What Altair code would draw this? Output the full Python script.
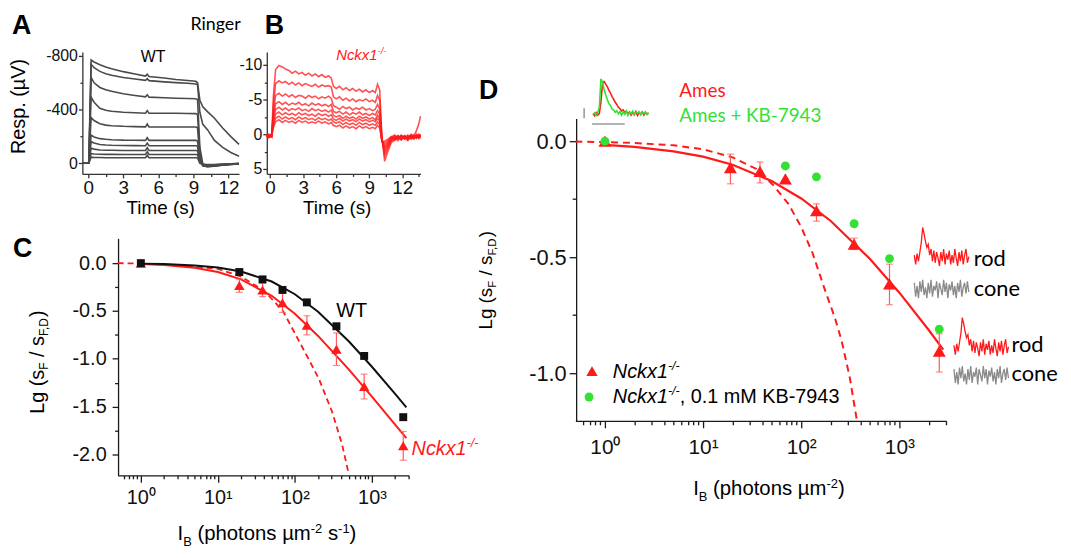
import altair as alt
import pandas as pd

# ============================ DATA ============================
# ---- Panel A: WT rods in Ringer, response family (time s, response µV; negative = upward)
a_time = [-0.5, 0.05, 0.25, 0.5, 1.0, 1.5, 2.0, 3.0, 4.0, 4.9, 5.05, 5.2,
          6.5, 7.5, 8.5, 9.2, 9.35, 9.55, 9.8, 10.2, 10.8, 11.5, 12.2, 12.9]
a_resp = [
    [0, 0, -770, -755, -735, -718, -705, -683, -665, -650, -664, -647,
     -635, -625, -617, -611, -600, -470, -420, -385, -335, -262, -198, -140],
    [0, 0, -738, -712, -685, -668, -656, -640, -628, -618, -631, -616,
     -607, -601, -596, -591, -585, -380, -290, -250, -170, -118, -80, -52],
    [0, 0, -640, -600, -565, -548, -536, -518, -505, -495, -510, -493,
     -488, -485, -483, -481, -475, -120, 5, 18, 16, 12, 8, 5],
    [0, 0, -492, -455, -410, -395, -387, -380, -376, -373, -392, -372,
     -372, -372, -371, -370, -364, -70, 18, 26, 22, 15, 10, 6],
    [0, 0, -340, -318, -294, -284, -279, -275, -273, -271, -292, -270,
     -270, -270, -270, -270, -265, -40, 20, 26, 21, 14, 9, 5],
    [0, 0, -210, -196, -183, -178, -175, -172, -171, -170, -190, -170,
     -170, -170, -170, -170, -166, -20, 18, 23, 19, 13, 8, 4],
    [0, 0, -160, -150, -140, -136, -134, -132, -131, -130, -150, -130,
     -130, -130, -130, -130, -127, -12, 15, 20, 17, 12, 7, 3],
    [0, 0, -112, -105, -99, -97, -96, -95, -95, -95, -115, -95,
     -95, -95, -95, -95, -93, -6, 12, 17, 15, 10, 6, 3],
    [0, 0, -72, -69, -67, -66, -66, -65, -65, -65, -85, -65,
     -65, -65, -65, -65, -63, -2, 10, 14, 12, 9, 5, 2],
    [0, 0, -45, -43, -42, -41, -41, -40, -40, -40, -58, -40,
     -40, -40, -40, -40, -39, 0, 8, 11, 10, 7, 4, 2],
]

# ---- Panel B: Nckx1-/- rods in Ringer (time s, response µV)
b_time = [-0.3, -0.15, 0.0, 0.15,
          0.3,
          0.5, 0.8, 1.1, 1.4, 1.7, 2.0, 2.3, 2.6, 2.9, 3.2, 3.5, 3.8, 4.1, 4.4, 4.7, 5.0, 5.3, 5.55,
          5.75,
          6.0, 6.3, 6.6, 6.9, 7.2, 7.5, 7.8, 8.1, 8.4, 8.7, 9.0, 9.3, 9.55,
          9.75, 9.95,
          10.15, 10.4, 10.7, 11.0,
          11.3, 11.6, 11.9, 12.2, 12.5, 12.8, 13.05, 13.3, 13.5, 13.65]
b_resp = [
    [0.3, 0.5, 0.1, 0.2, -5.5,
     -9.3, -9.9, -9.7, -9.4, -9.2, -8.8, -9.1, -8.7, -8.9, -8.5, -8.8, -8.4, -8.7, -8.3, -8.6, -8.2, -8.4, -8.1,
     -6.9,
     -6.6, -6.9, -6.4, -6.7, -6.3, -6.6, -6.2, -6.5, -6.1, -6.4, -6.0, -6.3, -6.0,
     -7.2, -6.4,
     0.5, 3.9, 2.4, 1.2,
     0.8, 0.3, 0.7, 0.2, 0.5, 0.0, 0.3, -0.6, -1.5, -2.6],
    [0.2, 0.4, 0.0, 0.3, -4.2,
     -7.3, -7.7, -7.4, -7.6, -7.2, -7.5, -7.1, -7.4, -7.0, -7.3, -7.1, -6.9, -7.2, -6.8, -7.1, -6.9, -7.0, -6.8,
     -5.4,
     -5.1, -5.4, -4.9, -5.2, -4.8, -5.1, -4.7, -5.0, -4.8, -5.1, -4.7, -4.9, -4.6,
     -5.6, -4.9,
     0.6, 3.1, 2.0, 0.9,
     0.5, 0.9, 0.3, 0.6, 0.1, 0.5, 0.2, 0.6, 0.0, 0.3],
    [0.4, 0.1, 0.3, 0.0, -3.3,
     -5.6, -5.9, -5.5, -5.8, -5.4, -5.7, -5.3, -5.6, -5.5, -5.2, -5.6, -5.3, -5.5, -5.1, -5.4, -5.2, -5.5, -5.2,
     -4.1,
     -3.9, -3.6, -4.0, -3.7, -3.9, -3.5, -3.8, -3.6, -3.9, -3.5, -3.7, -3.4, -3.6,
     -4.3, -3.6,
     0.7, 2.6, 1.7, 0.8,
     0.3, 0.7, 0.2, 0.5, 0.9, 0.3, 0.6, 0.1, 0.4, 0.0],
    [0.1, 0.3, 0.2, 0.4, -2.6,
     -4.4, -4.7, -4.3, -4.6, -4.2, -4.5, -4.3, -4.6, -4.2, -4.4, -4.1, -4.5, -4.2, -4.4, -4.1, -4.3, -4.0, -4.3,
     -3.3,
     -3.1, -3.3, -2.9, -3.2, -2.8, -3.1, -2.9, -3.2, -2.8, -3.0, -2.7, -3.0, -2.8,
     -3.4, -2.9,
     0.8, 2.2, 1.5, 0.7,
     0.9, 0.4, 0.8, 0.2, 0.6, 0.3, 0.7, 0.2, 0.5, 0.1],
    [0.3, 0.0, 0.4, 0.1, -2.1,
     -3.6, -3.9, -3.5, -3.8, -3.4, -3.7, -3.5, -3.8, -3.4, -3.6, -3.3, -3.7, -3.4, -3.6, -3.3, -3.5, -3.2, -3.5,
     -2.7,
     -2.5, -2.7, -2.3, -2.6, -2.3, -2.5, -2.2, -2.6, -2.3, -2.5, -2.2, -2.4, -2.1,
     -2.8, -2.3,
     0.9, 1.9, 1.3, 0.6,
     0.2, 0.6, 0.1, 0.5, 0.2, 0.7, 0.3, 0.5, 0.1, 0.4],
    [0.2, 0.4, 0.1, 0.3, -1.7,
     -2.9, -3.2, -2.8, -3.1, -2.8, -3.0, -2.7, -3.1, -2.8, -3.0, -2.7, -2.9, -2.6, -3.0, -2.7, -2.9, -2.6, -2.8,
     -2.2,
     -2.0, -2.3, -1.9, -2.2, -1.9, -2.1, -1.8, -2.2, -1.9, -2.1, -1.8, -2.0, -1.8,
     -2.3, -1.9,
     1.0, 1.6, 1.1, 0.5,
     0.7, 0.2, 0.6, 0.3, 0.8, 0.2, 0.5, 0.0, 0.4, 0.2],
    [0.0, 0.3, 0.2, 0.1, -1.3,
     -2.3, -2.6, -2.2, -2.5, -2.2, -2.4, -2.1, -2.5, -2.2, -2.4, -2.1, -2.3, -2.0, -2.4, -2.1, -2.3, -2.0, -2.2,
     -1.8,
     -1.6, -1.8, -1.4, -1.7, -1.4, -1.6, -1.3, -1.7, -1.4, -1.6, -1.3, -1.5, -1.3,
     -1.8, -1.4,
     1.0, 1.3, 0.9, 0.4,
     0.1, 0.5, 0.2, 0.7, 0.3, 0.6, 0.1, 0.4, 0.3, 0.6],
    [0.3, 0.1, 0.4, 0.2, -1.0,
     -1.8, -2.1, -1.7, -2.0, -1.7, -1.9, -1.6, -2.0, -1.7, -1.9, -1.6, -1.8, -1.6, -1.9, -1.6, -1.8, -1.5, -1.7,
     -1.3,
     -1.1, -1.3, -0.9, -1.2, -0.9, -1.1, -0.8, -1.2, -0.9, -1.1, -0.8, -1.0, -0.8,
     -1.3, -0.9,
     1.0, 1.0, 0.7, 0.3,
     0.6, 0.2, 0.8, 0.3, 0.7, 0.1, 0.5, 0.2, 0.6, 0.3],
]

# ---- Panel C: Lg(sF/sF,D) vs background intensity (photons µm^-2 s^-1)
c_ib = [1, 19, 38, 69, 143, 346, 793, 2550]
c_wt = [0.0, -0.093, -0.17, -0.28, -0.41, -0.66, -0.97, -1.61]
c_ko = [0.0, -0.235, -0.28, -0.415, -0.65, -0.90, -1.29, -1.91]
c_ko_err = [0.0, 0.07, 0.07, 0.10, 0.10, 0.17, 0.13, 0.15]
c_fit_x = [1, 2, 5, 10, 20, 50, 100, 200, 500, 1000, 2000, 2800]
c_fit_wt = [-0.005, -0.010, -0.024, -0.046, -0.087, -0.192, -0.325, -0.508, -0.817, -1.083, -1.366, -1.507]
c_fit_ko = [-0.010, -0.020, -0.049, -0.093, -0.169, -0.341, -0.529, -0.761, -1.111, -1.395, -1.687, -1.830]
c_dash_x = [0.5, 1, 3, 10, 20, 40, 70, 114, 150, 205, 306, 411, 477, 500]
c_dash_y = [0.0, -0.005, -0.02, -0.06, -0.14, -0.29, -0.50, -0.82, -1.0, -1.21, -1.56, -1.90, -2.13, -2.21]

# ---- Panel D: Lg(sF/sF,D) vs flash background (photons µm^-2), Ames medium
d_ib = [1, 19, 38, 69, 143, 346, 793, 2550]
d_ko = [0.0, -0.114, -0.13, -0.163, -0.30, -0.444, -0.615, -0.905]
d_ko_lo = [0.0, -0.184, -0.18, -0.163, -0.345, -0.467, -0.705, -0.995]
d_ko_hi = [0.0, -0.056, -0.09, -0.163, -0.27, -0.418, -0.53, -0.83]
d_kb_x = [1, 69, 143, 346, 793, 2550]
d_kb = [0.0, -0.107, -0.154, -0.356, -0.506, -0.81]
d_fit_x = [1, 2, 5, 10, 20, 50, 100, 200, 500, 1000, 2000, 2800]
d_fit = [-0.016, -0.025, -0.044, -0.067, -0.102, -0.172, -0.247, -0.344, -0.507, -0.653, -0.815, -0.898]
d_dash_x = [0.5, 1, 2, 5, 10, 20, 35, 52, 74, 100, 130, 174, 220, 258, 313, 368]
d_dash_y = [-0.002, -0.004, -0.008, -0.018, -0.035, -0.07, -0.12, -0.19, -0.27, -0.37, -0.48, -0.64, -0.76, -0.86, -1.02, -1.2]

# ---- Inset in D: normalised flash responses, Ames (red) vs Ames + KB-7943 (green)
ames_idx = [0, 1, 2, 3, 4, 5, 6, 7, 8, 9, 10, 11, 12, 13, 14, 15, 16, 17,
            18, 19, 20, 21, 22, 23, 24, 25, 26, 27, 28, 29, 30, 31, 32, 33, 34, 35]
ames_red = [0.02, -0.04, 0.05, -0.02, 0.03, 0.35, 0.88, 0.92, 0.85, 0.78, 0.68, 0.6, 0.5, 0.43, 0.34, 0.28,
            0.2, 0.16, 0.1, 0.13, 0.05, 0.09, 0.02, 0.07, -0.02, 0.06, 0.0, 0.08, -0.03, 0.05, 0.01, 0.07,
            -0.02, 0.06, 0.0, 0.04]
ames_green = [0.0, 0.04, -0.03, 0.05, 0.2, 1.0, 0.9, 0.7, 0.55, 0.42, 0.3, 0.25, 0.15, 0.12, 0.06, 0.1,
              0.02, 0.08, -0.02, 0.07, 0.0, 0.1, -0.03, 0.06, 0.02, 0.09, -0.02, 0.05, 0.03, 0.08, -0.01,
              0.06, 0.02, 0.07, 0.0, 0.05]
bar_v_idx = [-5.6, -5.6]
bar_v_val = [-0.11, 0.17]
bar_h_idx = [-0.6, 20]
bar_h_val = [-0.27, -0.27]

# ---- rod / cone example traces (normalised)
rc_idx = [0, 1, 2, 3, 4, 5, 6, 7, 8, 9, 10, 11, 12, 13, 14, 15, 16, 17, 18, 19,
          20, 21, 22, 23, 24, 25, 26, 27, 28, 29, 30, 31, 32, 33, 34, 35, 36, 37, 38, 39]
rod_trace = [0.1, -0.2, 0.15, -0.1, 0.2, 0.5, 1.0, 0.8, 0.55, 0.35, 0.45, 0.1, 0.3, -0.1, 0.25, -0.15,
             0.2, 0.0, -0.25, 0.2, -0.1, 0.3, -0.2, 0.15, -0.05, 0.25, -0.2, 0.1, -0.15, 0.3, 0.0,
             -0.25, 0.2, -0.1, 0.25, -0.2, 0.1, 0.3, -0.15, 0.05]
cone_trace = [0.2, -0.25, 0.1, -0.3, 0.25, -0.1, 0.3, -0.2, 0.05, -0.3, 0.2, -0.15, 0.3, -0.25, 0.1,
              -0.05, 0.25, -0.3, 0.2, 0.0, -0.2, 0.3, -0.1, 0.2, -0.3, 0.15, -0.05, 0.25, -0.2, 0.1,
              -0.3, 0.2, -0.1, 0.3, -0.25, 0.05, 0.2, -0.15, 0.25, -0.1]

for tr in a_resp:
    assert len(tr) == len(a_time)
for tr in b_resp:
    assert len(tr) == len(b_time), len(tr)
assert len(ames_red) == len(ames_idx) == len(ames_green)
assert len(rod_trace) == len(rc_idx) == len(cone_trace)

# ============================ LAYOUT ============================
W, H = 1062, 545
OX, OY = 8, 8


def X(p):
    return p - OX


def Y(p):
    return p - OY


FONT = 'Liberation Sans'
CAL = 'Lato'
RED = '#ff1a1a'
GREEN = '#33e133'
ERR = '#ff5a5a'
AXC = '#1a1a1a'


def lin(dom, rng, axis):
    f = X if axis == 'x' else Y
    return alt.Scale(type='linear', domain=dom, range=[f(rng[0]), f(rng[1])], nice=False, zero=False)


def logs(dom, rng):
    return alt.Scale(type='log', domain=dom, range=[X(rng[0]), X(rng[1])], nice=False)


SA = dict(x=lin([-0.5, 12.9], [81, 239], 'x'), y=lin([-830, 80], [50, 173], 'y'))
SB = dict(x=lin([-0.3, 13.65], [267, 422], 'x'), y=lin([-11.86, 5.71], [50, 173], 'y'))
SC = dict(x=logs([0.5, 3000], [116.6, 410.1]), y=lin([-2.218, 0.259], [477, 238], 'y'))
SD = dict(x=logs([0.5, 3000], [578.2, 952.2]), y=lin([-1.205, 0.098], [422, 117], 'y'))

AW = {' ': 278, '(': 333, ')': 333, '/': 278, ',': 278, '.': 278, '-': 333, 'I': 278, 'B': 667,
      'F': 611, 'D': 722, 'L': 556, 'N': 722, 'K': 667, 'M': 833, 'g': 556, 's': 500, 'p': 556,
      'h': 556, 'o': 556, 't': 278, 'n': 556, 'µ': 576, 'm': 833, 'c': 500, 'k': 500, 'x': 500}


def tw(s, size):
    return sum(AW.get(ch, 556) for ch in s) * size / 1000.0


layers = []


def T(s, x, y, size, color='black', font=FONT, style='normal', weight='normal',
      angle=0, align='left', baseline='alphabetic'):
    df = pd.DataFrame({'t': [s]})
    return alt.Chart(df).mark_text(
        font=font, fontSize=size, color=color, fontStyle=style, fontWeight=weight,
        angle=angle, align=align, baseline=baseline
    ).encode(x=alt.value(X(x)), y=alt.value(Y(y)), text='t:N')


def seq(pieces, x, y, angle=0):
    """Place text pieces one after another (leading/trailing blanks are advanced, not drawn)."""
    out = []
    cur = 0.0
    for s, size, shift, kw in pieces:
        lead = len(s) - len(s.lstrip(' '))
        trail = len(s) - len(s.rstrip(' '))
        cur += lead * 278 * size / 1000.0
        core = s.strip(' ')
        if angle == 0:
            out.append(T(core, x + cur, y + shift, size, **kw))
        else:
            out.append(T(core, x + shift, y - cur, size, angle=270, **kw))
        cur += tw(core, size) + trail * 278 * size / 1000.0
    return out


def ax(orient, pos, values, size, tick, pad, expr=None, labels=True, domain=True, color=AXC):
    kw = dict(orient=orient, values=values, tickSize=tick, labelPadding=pad, labelFontSize=size,
              labelFont=FONT, labelColor='#111111', domain=domain, domainColor=color, tickColor=color,
              domainWidth=1.3, tickWidth=1.3, grid=False, title=None, labels=labels,
              labelFlush=False, labelOverlap=False)
    kw['offset'] = -X(pos) if orient == 'left' else Y(pos) - H
    if expr:
        kw['labelExpr'] = expr
    return alt.Axis(**kw)


def axis_layer(S, px_, py_, xaxis, yaxis):
    df = pd.DataFrame({'x': [px_], 'y': [py_]})
    return alt.Chart(df).mark_point(opacity=0).encode(
        x=alt.X('x:Q', scale=S['x'], axis=xaxis),
        y=alt.Y('y:Q', scale=S['y'], axis=yaxis))


def line(df, S, color, width=2.0, dash=None, opacity=1.0, detail=None):
    kw = dict(color=color, strokeWidth=width, opacity=opacity, clip=False)
    if dash:
        kw['strokeDash'] = dash
    enc = dict(x=alt.X('x:Q', scale=S['x'], axis=None), y=alt.Y('y:Q', scale=S['y'], axis=None))
    if detail:
        enc['detail'] = detail
    return alt.Chart(df).mark_line(**kw).encode(**enc)


def pts(df, S, shape, color, size):
    return alt.Chart(df).mark_point(shape=shape, filled=True, color=color, size=size, opacity=1).encode(
        x=alt.X('x:Q', scale=S['x'], axis=None), y=alt.Y('y:Q', scale=S['y'], axis=None))


def errbars(df, S, color):
    r = alt.Chart(df).mark_rule(color=color, strokeWidth=1.2).encode(
        x=alt.X('x:Q', scale=S['x'], axis=None), y=alt.Y('lo:Q', scale=S['y'], axis=None), y2='hi:Q')
    c1 = alt.Chart(df).mark_tick(color=color, orient='horizontal', size=7, thickness=1.2).encode(
        x=alt.X('x:Q', scale=S['x'], axis=None), y=alt.Y('lo:Q', scale=S['y'], axis=None))
    c2 = alt.Chart(df).mark_tick(color=color, orient='horizontal', size=7, thickness=1.2).encode(
        x=alt.X('x:Q', scale=S['x'], axis=None), y=alt.Y('hi:Q', scale=S['y'], axis=None))
    return [r, c1, c2]


AX_A = "replace(format(datum.value, 'd'), '\u2212', '-')"
AX_F = "replace(format(datum.value, '.1f'), '\u2212', '-')"
AX_LOG = ("datum.value < 5 ? '10\u2070' : datum.value < 50 ? '10\u00b9' : "
          "datum.value < 500 ? '10\u00b2' : '10\u00b3'")
LOG_MINOR = [0.6, 0.7, 0.8, 0.9, 2, 3, 4, 5, 6, 7, 8, 9, 20, 30, 40, 50, 60, 70, 80, 90,
             200, 300, 400, 500, 600, 700, 800, 900, 2000, 3000]

# ---------------- Panel A ----------------
dfA = pd.DataFrame([{'x': t, 'y': v, 'k': i} for i, tr in enumerate(a_resp) for t, v in zip(a_time, tr)])
layers.append(line(dfA, SA, '#4a4a4a', width=1.6, detail='k:N'))
layers.append(axis_layer(SA, 5, -300,
                         ax('bottom', 173, [0, 3, 6, 9, 12], 19, 4, 1, color='#333333'),
                         ax('left', 81, [-800, -400, 0], 16, 4, 1, expr=AX_A, color='#333333')))
layers.append(axis_layer(SA, 5, -300,
                         ax('bottom', 173, [1.5, 4.5, 7.5, 10.5], 10, 2.5, 1, labels=False, domain=False, color='#333333'),
                         ax('left', 81, [-600, -200], 10, 2.5, 1, labels=False, domain=False, color='#333333')))

# ---------------- Panel B ----------------
dfB = pd.DataFrame([{'x': t, 'y': v, 'k': i} for i, tr in enumerate(b_resp) for t, v in zip(b_time, tr)])
layers.append(line(dfB, SB, RED, width=1.6, opacity=0.75, detail='k:N'))
layers.append(axis_layer(SB, 5, -3,
                         ax('bottom', 173, [0, 3, 6, 9, 12], 19, 4, 1, color='#333333'),
                         ax('left', 267, [-10, -5, 0, 5], 16, 4, 1, expr=AX_A, color='#333333')))
layers.append(axis_layer(SB, 5, -3,
                         ax('bottom', 173, [1.5, 4.5, 7.5, 10.5, 13.5], 10, 2.5, 1, labels=False, domain=False, color='#333333'),
                         ax('left', 267, [-7.5, -2.5, 2.5], 10, 2.5, 1, labels=False, domain=False, color='#333333')))

# ---------------- Panel C ----------------
layers.append(line(pd.DataFrame({'x': c_dash_x, 'y': c_dash_y}), SC, RED, width=1.8, dash=[6, 4]))
layers.append(line(pd.DataFrame({'x': c_fit_x, 'y': c_fit_ko}), SC, RED, width=2.0))
layers.append(line(pd.DataFrame({'x': c_fit_x, 'y': c_fit_wt}), SC, '#111111', width=2.0))
dfCe = pd.DataFrame({'x': c_ib[1:], 'lo': [v - e for v, e in zip(c_ko[1:], c_ko_err[1:])],
                     'hi': [v + e for v, e in zip(c_ko[1:], c_ko_err[1:])]})
layers += errbars(dfCe, SC, ERR)
layers.append(pts(pd.DataFrame({'x': c_ib, 'y': c_ko}), SC, 'triangle-up', RED, 110))
layers.append(pts(pd.DataFrame({'x': c_ib, 'y': c_wt}), SC, 'square', '#111111', 64))
layers.append(axis_layer(SC, 10, -1,
                         ax('bottom', 477, [1, 10, 100, 1000], 20, 7, 5, expr=AX_LOG),
                         ax('left', 117, [0, -0.5, -1.0, -1.5, -2.0], 20, 6, 6, expr=AX_F)))
layers.append(axis_layer(SC, 10, -1,
                         ax('bottom', 477, LOG_MINOR, 10, 3.5, 1, labels=False, domain=False),
                         ax('left', 117, [-0.25, -0.75, -1.25, -1.75], 10, 3.5, 1, labels=False, domain=False)))

# ---------------- Panel D ----------------
layers.append(line(pd.DataFrame({'x': d_dash_x, 'y': d_dash_y}), SD, RED, width=2.0, dash=[7, 5]))
layers.append(line(pd.DataFrame({'x': d_fit_x, 'y': d_fit}), SD, RED, width=2.2))
dfDe = pd.DataFrame({'x': [d_ib[i] for i in (1, 2, 4, 5, 6, 7)],
                     'lo': [d_ko_lo[i] for i in (1, 2, 4, 5, 6, 7)],
                     'hi': [d_ko_hi[i] for i in (1, 2, 4, 5, 6, 7)]})
layers += errbars(dfDe, SD, ERR)
layers.append(pts(pd.DataFrame({'x': d_ib, 'y': d_ko}), SD, 'triangle-up', RED, 170))
layers.append(pts(pd.DataFrame({'x': d_kb_x, 'y': d_kb}), SD, 'circle', GREEN, 80))
layers.append(axis_layer(SD, 10, -0.5,
                         ax('bottom', 422, [1, 10, 100, 1000], 21, 7, 9, expr=AX_LOG),
                         ax('left', 579, [0, -0.5, -1.0], 22, 7, 3, expr=AX_F)))
layers.append(axis_layer(SD, 10, -0.5,
                         ax('bottom', 422, LOG_MINOR, 10, 4, 1, labels=False, domain=False),
                         ax('left', 579, [-0.25, -0.75], 10, 4, 1, labels=False, domain=False)))

# inset (Ames vs KB-7943)
S_in = dict(x=lin([0, 35], [596, 652], 'x'), y=lin([0, 1], [113, 77], 'y'))
layers.append(line(pd.DataFrame({'x': bar_v_idx, 'y': bar_v_val}), S_in, '#9a9a9a', width=1.6))
layers.append(line(pd.DataFrame({'x': bar_h_idx, 'y': bar_h_val}), S_in, '#9a9a9a', width=1.6))
layers.append(line(pd.DataFrame({'x': ames_idx, 'y': ames_red}), S_in, RED, width=1.6))
layers.append(line(pd.DataFrame({'x': ames_idx, 'y': ames_green}), S_in, GREEN, width=1.6))

# rod / cone examples
for x0, x1, ry, cy in [(920, 975, (258, 227), (289, 258)), (960, 1015, (349, 318), (376, 345))]:
    Sr = dict(x=lin([0, 39], [x0, x1], 'x'), y=lin([0, 1], [ry[0], ry[1]], 'y'))
    Sc = dict(x=lin([0, 39], [x0, x1], 'x'), y=lin([0, 1], [cy[0], cy[1]], 'y'))
    layers.append(line(pd.DataFrame({'x': rc_idx, 'y': cone_trace}), Sc, '#8a8a8a', width=1.3))
    layers.append(line(pd.DataFrame({'x': rc_idx, 'y': rod_trace}), Sr, RED, width=1.3))

# legend symbols in D
layers.append(alt.Chart(pd.DataFrame({'k': ['ko']})).mark_point(
    shape='triangle-up', filled=True, color=RED, size=130, opacity=1).encode(
    x=alt.value(X(595)), y=alt.value(Y(372))))
layers.append(alt.Chart(pd.DataFrame({'k': ['kb']})).mark_point(
    shape='circle', filled=True, color=GREEN, size=80, opacity=1).encode(
    x=alt.value(X(592)), y=alt.value(Y(398))))

# ---------------- Texts ----------------
B = dict(weight='bold')
layers.append(T('A', 10, 32, 27, **B))
layers.append(T('B', 265, 32, 27, **B))
layers.append(T('C', 11, 257, 27, **B))
layers.append(T('D', 481, 97, 27, **B))
layers.append(T('Ringer', 190, 28, 18, font=CAL))
layers.append(T('WT', 140, 60, 16))
layers.append(T('Resp. (µV)', 23, 105, 20, angle=270, align='center'))
layers.append(T('Time (s)', 160, 213, 19, align='center'))
layers.append(T('Time (s)', 338, 213, 19, align='center'))
layers.append(T('WT', 337, 317, 20))

it_red = dict(color=RED, style='italic')
layers += seq([('Nckx1', 15, 0, it_red), ('-/-', 9.5, -6, it_red)], 337, 58)
layers += seq([('Nckx1', 20, 0, it_red), ('-/-', 12.5, -8, it_red)], 413, 456)
it_blk = dict(style='italic')
layers += seq([('Nckx1', 20, 0, it_blk), ('-/-', 12.5, -8, it_blk)], 616, 379)
layers += seq([('Nckx1', 20, 0, it_blk), ('-/-', 12.5, -8, it_blk), (', 0.1 mM KB-7943', 20, 0, {})], 616, 404)

# axis titles with sub/superscripts
layers += seq([('I', 20.5, 0, {}), ('B', 13, 6, {}), (' (photons µm', 20.5, 0, {}), ('-2', 13, -7, {}),
               (' s', 20.5, 0, {}), ('-1', 13, -7, {}), (')', 20.5, 0, {})], 177, 542)
layers += seq([('I', 20.5, 0, {}), ('B', 13, 6, {}), (' (photons µm', 20.5, 0, {}), ('-2', 13, -7, {}),
               (')', 20.5, 0, {})], 697, 497)
layers += seq([('Lg (s', 20, 0, {}), ('F', 12, 4, {}), (' / s', 20, 0, {}), ('F,D', 12, 4, {}),
               (')', 20, 0, {})], 42, 415, angle=270)
layers += seq([('Lg (s', 19, 0, {}), ('F', 11.5, 4, {}), (' / s', 19, 0, {}), ('F,D', 11.5, 4, {}),
               (')', 19, 0, {})], 494, 330, angle=270)

# D annotations
layers.append(T('Ames', 683, 95, 19, color=RED, font=CAL))
layers.append(T('Ames + KB-7943', 683, 121, 19, color=GREEN, font=CAL))
layers.append(T('rod', 980, 266, 22, font=CAL))
layers.append(T('cone', 980, 296, 22, font=CAL))
layers.append(T('rod', 1018, 353, 22, font=CAL))
layers.append(T('cone', 1018, 382, 22, font=CAL))

chart = alt.layer(*layers).resolve_scale(x='independent', y='independent').properties(
    width=W, height=H, padding=0, background='white'
).configure_view(stroke=None)

chart.save("out.html", embed_options={"renderer": "svg", "actions": False})
